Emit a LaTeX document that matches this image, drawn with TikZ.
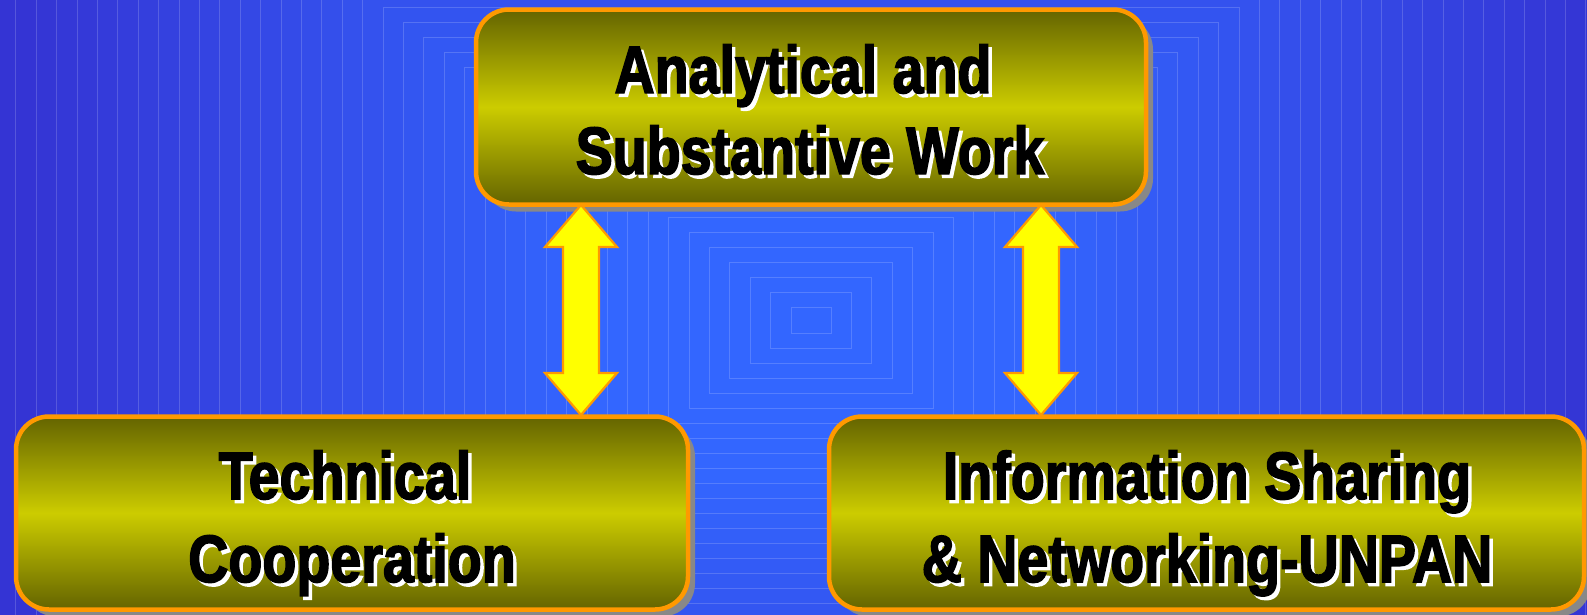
\documentclass[tikz,border=0pt]{standalone}
\usepackage{fontspec}
\newfontfamily\boxfont[FakeStretch=0.83,FakeBold=2.2]{Liberation Sans}
\usetikzlibrary{shadows}
\definecolor{bgout}{RGB}{52,52,212}
\definecolor{bgin}{RGB}{51,102,255}
\definecolor{olivedk}{RGB}{100,100,0}
\definecolor{olivelt}{RGB}{204,204,0}
\definecolor{orng}{RGB}{255,153,0}
\definecolor{shgray}{RGB}{136,136,136}
\definecolor{yel}{RGB}{255,255,0}
\newcommand\dblarr[2]{%
  \draw[arr] (#2,205) -- (#2+36,247) -- (#2+18,247) -- (#2+18,373) -- (#2+36,373)
    -- (#2,415) -- (#2-36,373) -- (#2-18,373) -- (#2-18,247) -- (#2-36,247) -- cycle;
  \coordinate (#1) at (#2,310);}
\newcommand\btxt[4]{%
  \node[txt,text=white] (#1s) at (#2+3.5,#3+3.5) {#4};
  \node[txt] (#1) at (#2,#3) {#4};}
\begin{document}
\begin{tikzpicture}[x=1pt,y=-1pt,
  box/.style={draw=orng, line width=4.5pt, rounded corners=33pt,
    top color=olivedk, bottom color=olivedk, middle color=olivelt, inner sep=0pt,
    general shadow={fill=shgray, shadow xshift=7pt, shadow yshift=-7pt}},
  arr/.style={fill=yel, draw=orng, line width=2.2pt, line join=miter},
  txt/.style={font=\boxfont\bfseries\fontsize{67}{81}\selectfont, anchor=base, inner sep=0pt, text=black},
  bgline/.style={draw=white, draw opacity=0.17, line width=0.8pt}]
\useasboundingbox (0,0) rectangle (1587,614);
% background
\begin{scope}
\clip (0,0) rectangle (1587,614);
\fill[bgout] (0,0) rectangle (1587,614);
\foreach \k in {-19,...,20}{
  \pgfmathsetmacro\bL{383+20.4*\k}
  \pgfmathsetmacro\bR{1239-20.4*\k}
  \pgfmathsetmacro\bT{7+15*\k}
  \pgfmathsetmacro\bB{633-15*\k}
  \pgfmathsetmacro\mixp{max(0,min(100,(\k+18)*100/28))}
  \fill[bgin!\mixp!bgout] (\bL,\bT) rectangle (\bR,\bB);
  \draw[bgline] (\bL,\bT) rectangle (\bR,\bB);
}
\end{scope}
% boxes
\node[box, minimum width=670pt, minimum height=195pt] (top) at (811,107) {};
\node[box, minimum width=672pt, minimum height=193pt] (tc) at (352,513) {};
\node[box, minimum width=755pt, minimum height=193pt] (is) at (1206.5,513) {};
% arrows
\dblarr{arrL}{581}
\dblarr{arrR}{1041}
% texts
\btxt{t1}{803}{93}{Analytical and}
\btxt{t2}{810}{174}{Substantive Work}
\btxt{t3}{345}{499}{Technical}
\btxt{t4}{352}{582}{Cooperation}
\btxt{t5}{1207}{499}{Information Sharing}
\btxt{t6}{1207}{582}{\& Networking-UNPAN}
\end{tikzpicture}
\end{document}
